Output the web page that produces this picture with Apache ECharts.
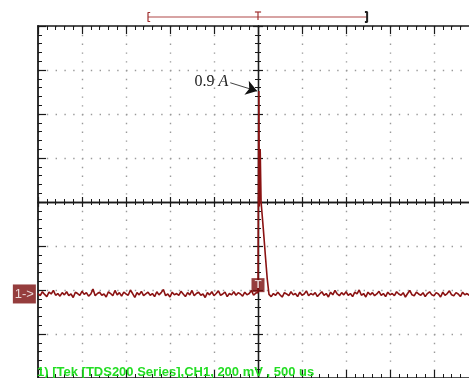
<!DOCTYPE html>
<html>
<head>
<meta charset="utf-8">
<script src="https://cdn.jsdelivr.net/npm/echarts@6/dist/echarts.min.js"></script>
<style>
  html, body { margin: 0; padding: 0; background: #fff; }
  #main { width: 469px; height: 378px; }
</style>
</head>
<body>
<div id="main"></div>
<script>
// scope trace, in divisions (x: 500 us/div, y: 200 mV/div), trigger at t = 0
var sampleStep = 0.05;
var preStart = -5.0;
var preValues = [
  -2.08,-2.13,-2.04,-2.10,-2.15,-2.05,-2.09,-2.01,-2.12,-2.08,
  -2.14,-2.06,-2.11,-2.04,-2.13,-2.09,-2.17,-2.05,-2.08,-2.12,
  -2.03,-2.10,-2.06,-2.14,-2.09,-1.98,-2.13,-2.08,-2.05,-2.12,
  -2.09,-2.16,-2.04,-2.08,-2.13,-2.01,-2.11,-2.06,-2.14,-2.05,
  -2.09,-2.12,-2.00,-2.08,-2.17,-2.06,-2.11,-2.03,-2.13,-2.09,
  -2.05,-2.12,-2.08,-2.15,-2.04,-2.11,-2.06,-1.99,-2.13,-2.09,
  -2.16,-2.05,-2.11,-2.08,-2.12,-2.03,-2.09,-2.15,-2.06,-2.11,
  -2.01,-2.13,-2.08,-2.05,-2.12,-2.09,-2.17,-2.06,-2.11,-2.04,
  -2.13,-2.08,-2.02,-2.12,-2.09,-2.05,-2.15,-2.08,-2.11,-2.04,
  -2.12,-2.06,-2.09,-2.14,-2.05,-2.11,-2.08,-2.01,-2.12,-2.07
];
// the pulse itself
var pulseTimes  = [0.00, 0.02, 0.03, 0.05, 0.07, 0.12, 0.17, 0.21, 0.25];
var pulseValues = [-2.06, 2.52, -0.10, 1.20, 0.00, -0.60, -1.25, -1.75, -2.10];
var postStart = 0.30;
var postValues = [
  -2.15,-2.08,-2.12,-2.05,-2.11,-2.16,-2.06,-2.09,-2.13,-2.04,
  -2.11,-2.08,-2.15,-2.05,-2.12,-2.09,-2.02,-2.13,-2.08,-2.11,
  -2.06,-2.15,-2.09,-2.04,-2.12,-2.08,-2.16,-2.05,-2.11,-2.01,
  -2.09,-2.13,-2.06,-2.11,-2.04,-2.12,-2.08,-2.15,-2.05,-2.09,
  -2.00,-2.12,-2.08,-2.16,-2.05,-2.11,-2.06,-2.13,-2.09,-2.03,
  -2.12,-2.08,-2.15,-2.05,-2.11,-2.08,-2.13,-2.04,-2.09,-2.12,
  -2.06,-2.16,-2.08,-2.01,-2.11,-2.13,-2.05,-2.09,-2.12,-2.06,
  -2.15,-2.08,-2.04,-2.11,-2.13,-2.06,-2.09,-2.16,-2.05,-2.12,
  -2.08,-2.02,-2.11,-2.13,-2.06,-2.09,-2.15,-2.05,-2.11,-2.08,
  -2.12,-2.04,-2.09,-2.13,-2.07
];
var groundLevel = -2.09;
var triggerMark = [0, -1.89];
var peakPoint = [-0.02, 2.52];
var peakLabelFrom = [-0.63, 2.71];
var memWindow = [-2.5, 2.48];
var captionText = '1) [Tek [TDS200 Series],CH1, 200 mV , 500 us';

var traceData = [];
preValues.forEach(function (v, i) { traceData.push([+(preStart + i * sampleStep).toFixed(2), v]); });
pulseTimes.forEach(function (t, i) { traceData.push([t, pulseValues[i]]); });
postValues.forEach(function (v, i) { traceData.push([+(postStart + i * sampleStep).toFixed(2), v]); });

var ink = '#1a1a1a';
var trace = '#8a1212';
var dots = { show: true, lineStyle: { color: '#9a9a9a', width: 1.4, type: [1.4, 7.4] } };

// one axis of the graticule (ticks only, labels hidden)
function scaleAxis(extra, big, small, width) {
  var a = {
    type: 'value', min: extra.min, max: extra.max, interval: 1,
    axisLine: { show: true, onZero: false, lineStyle: { color: ink, width: width } },
    axisTick: { show: true, inside: true, length: big, lineStyle: { color: ink, width: 1.2 } },
    minorTick: { show: true, splitNumber: 5, length: small, lineStyle: { color: ink, width: 1 } },
    axisLabel: { show: false },
    splitLine: { show: false }
  };
  for (var k in extra) a[k] = extra[k];
  return a;
}

var xAxes = [
  scaleAxis({ min: -5, max: 5, position: 'bottom', splitLine: dots }, 8, 4, 1.6),
  scaleAxis({ min: -5, max: 5, position: 'top' }, 8, 4, 1.6),
  scaleAxis({ min: -5, max: 5, position: 'top', offset: -176 }, 5, 3, 1.3),
  scaleAxis({ min: -5, max: 5, position: 'bottom', offset: -176 }, 5, 3, 1.3),
  { type: 'value', gridIndex: 1, min: -5, max: 5, show: false }
];
var yAxes = [
  scaleAxis({ min: -4, max: 4, position: 'left', splitLine: dots }, 8, 4, 1.8),
  scaleAxis({ min: -4, max: 4, position: 'right' }, 8, 4, 1.6),
  scaleAxis({ min: -4, max: 4, position: 'left', offset: -220 }, 5, 3, 1.3),
  scaleAxis({ min: -4, max: 4, position: 'right', offset: -220 }, 5, 3, 1.3),
  { type: 'value', gridIndex: 1, min: 0, max: 1, show: false }
];

function bracketSeries(data, color, width) {
  return {
    type: 'line', xAxisIndex: 4, yAxisIndex: 4, data: data, symbol: 'none', silent: true,
    lineStyle: { color: color, width: width }, clip: false
  };
}

var chart = echarts.init(document.getElementById('main'), null, { renderer: 'canvas' });
chart.setOption({
  animation: false,
  backgroundColor: '#fff',
  title: {
    text: captionText, left: 37, top: 366, padding: 0,
    textStyle: { color: '#22dd22', fontSize: 13, fontWeight: 'bold', fontFamily: 'Liberation Sans, Arial, sans-serif' }
  },
  grid: [
    { left: 38, top: 26, width: 440, height: 352, outerBoundsMode: 'none' },
    { left: 38, top: 12, width: 440, height: 10, outerBoundsMode: 'none' }
  ],
  xAxis: xAxes,
  yAxis: yAxes,
  series: [
    {
      name: 'CH1', type: 'line', xAxisIndex: 0, yAxisIndex: 0, data: traceData,
      symbol: 'none', silent: true, z: 5,
      lineStyle: { color: trace, width: 1.6 },
      markLine: {
        silent: true, symbol: ['none', 'arrow'], symbolSize: 11,
        itemStyle: { color: '#111' },
        lineStyle: { color: '#111', width: 0.8, type: 'solid', curveness: -0.15 },
        label: {
          show: true, position: 'start', distance: 2,
          formatter: '{a|0.9 }{b|A}',
          rich: {
            a: { fontFamily: 'Liberation Serif, Times New Roman, serif', fontSize: 16, color: '#222' },
            b: { fontFamily: 'Liberation Serif, Times New Roman, serif', fontSize: 16, fontStyle: 'italic', color: '#222' }
          }
        },
        data: [[{ coord: peakLabelFrom }, { coord: peakPoint }]]
      }
    },
    {
      name: 'ground', type: 'scatter', xAxisIndex: 0, yAxisIndex: 0, clip: false, silent: true, z: 6,
      data: [[-5.31, groundLevel]], symbol: 'rect', symbolSize: [23, 19],
      itemStyle: { color: '#7a0c0c' },
      label: { show: true, position: 'inside', formatter: '1->', color: '#fff', fontSize: 13, fontFamily: 'Liberation Sans, Arial, sans-serif' }
    },
    {
      name: 'trigger', type: 'scatter', xAxisIndex: 0, yAxisIndex: 0, clip: false, silent: true, z: 6,
      data: [triggerMark], symbol: 'rect', symbolSize: [13, 14],
      itemStyle: { color: '#7a0c0c' },
      label: { show: true, position: 'inside', formatter: 'T', color: '#fff', fontSize: 11, fontWeight: 'bold', fontFamily: 'Liberation Sans, Arial, sans-serif' }
    },
    bracketSeries([[memWindow[0], 0.5], [memWindow[1], 0.5]], '#b04848', 1.2),
    bracketSeries([[memWindow[0] + 0.05, 0.05], [memWindow[0], 0.05], [memWindow[0], 0.95], [memWindow[0] + 0.05, 0.95]], '#a03030', 1.2),
    bracketSeries([[-0.07, 1.0], [0.07, 1.0]], '#a03030', 1.2),
    bracketSeries([[0, 1.0], [0, 0.2]], '#a03030', 1.2),
    bracketSeries([[memWindow[1] - 0.05, 0.0], [memWindow[1], 0.0], [memWindow[1], 1.0], [memWindow[1] - 0.05, 1.0]], '#222', 2)
  ]
});
</script>
</body>
</html>
